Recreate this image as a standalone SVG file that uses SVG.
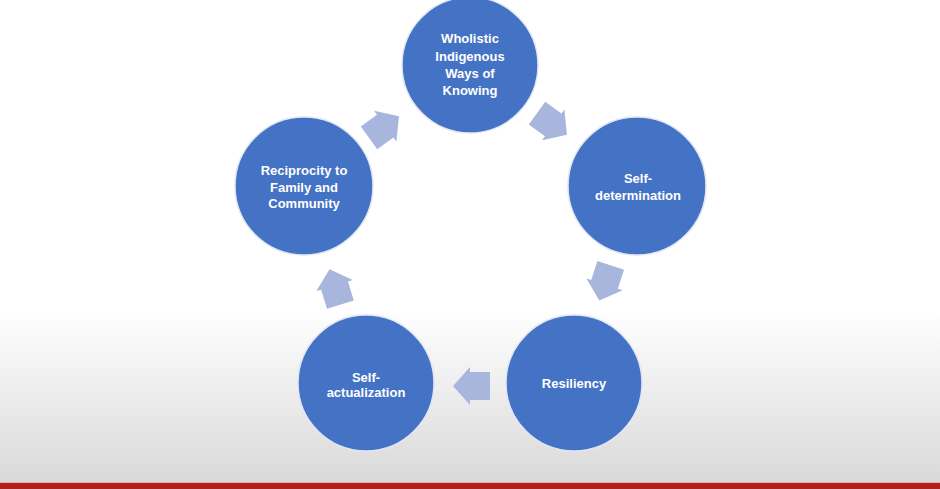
<svg xmlns="http://www.w3.org/2000/svg" xmlns:xlink="http://www.w3.org/1999/xlink" width="940" height="489" viewBox="0 0 940 489">
  <defs>
    <linearGradient id="bg" x1="0" y1="0" x2="0" y2="1">
      <stop offset="0" stop-color="#ffffff"/>
      <stop offset="0.64" stop-color="#ffffff"/>
      <stop offset="1" stop-color="#d9d9d9"/>
    </linearGradient>
    <path id="arrow" d="M18.5,0 L1.5,-19 L1.5,-14 L-18.5,-14 L-18.5,14 L1.5,14 L1.5,19 Z"/>
  </defs>
  <style>
    .node circle { fill: #4472c4; stroke: #dfe6f4; stroke-width: 1.5; }
    .node text { fill: #ffffff; font-family: "Liberation Sans", Arial, sans-serif; font-weight: bold; font-size: 13px; text-anchor: middle; }
    .conn use { fill: #a8b5dd; }
  </style>
  <rect x="0" y="0" width="940" height="483" fill="url(#bg)"/>
  <rect x="0" y="482" width="940" height="1.5" fill="#d9b8b6"/>
  <rect x="0" y="483" width="940" height="6" fill="#b0211e"/>

  <g id="connectors" class="conn">
    <use xlink:href="#arrow" transform="translate(552,124) rotate(36)"/>
    <use xlink:href="#arrow" transform="translate(605,283) rotate(108)"/>
    <use xlink:href="#arrow" transform="translate(471.5,386) rotate(180)"/>
    <use xlink:href="#arrow" transform="translate(335,287) rotate(-107)"/>
    <use xlink:href="#arrow" transform="translate(384,127) rotate(-36)"/>
  </g>

  <g id="node-wholistic" class="node">
    <circle cx="470" cy="65" r="68"/>
    <text x="470" y="43">Wholistic</text>
    <text x="470" y="61">Indigenous</text>
    <text x="470" y="78">Ways of</text>
    <text x="470" y="95">Knowing</text>
  </g>
  <g id="node-self-determination" class="node">
    <circle cx="637" cy="186" r="69"/>
    <text x="638" y="183">Self-</text>
    <text x="638" y="200">determination</text>
  </g>
  <g id="node-resiliency" class="node">
    <circle cx="574" cy="383" r="68"/>
    <text x="574" y="388">Resiliency</text>
  </g>
  <g id="node-self-actualization" class="node">
    <circle cx="366" cy="383" r="68"/>
    <text x="366" y="382">Self-</text>
    <text x="366" y="397">actualization</text>
  </g>
  <g id="node-reciprocity" class="node">
    <circle cx="304" cy="186" r="69"/>
    <text x="304" y="175">Reciprocity to</text>
    <text x="304" y="192">Family and</text>
    <text x="304" y="208">Community</text>
  </g>
</svg>
